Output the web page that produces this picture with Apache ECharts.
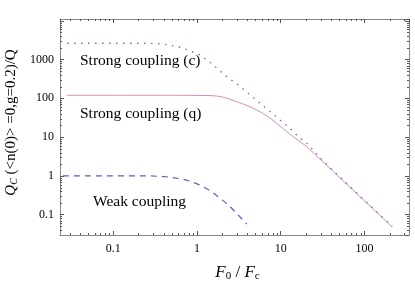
<!DOCTYPE html>
<html><head><meta charset="utf-8">
<script src="https://cdn.jsdelivr.net/npm/echarts@6/dist/echarts.min.js"></script>
<style>html,body{margin:0;padding:0;background:#fff}#c{width:415px;height:284px}</style>
</head><body><div id="c"></div>
<script>
// ---- data ----
const xRange = [0.0231, 341];
const yRange = [0.030, 11100];
const xTickLabels = ['0.1', '1', '10', '100'];
const yTickLabels = ['0.1', '1', '10', '100', '1000'];

const strongClassicalX = [0.028, 0.1, 0.2, 0.333, 0.45, 0.627, 0.8, 1.09, 1.43, 1.64, 2.26, 3.11, 4.10, 5.66, 7.45, 9.81, 12.9, 16.2, 20.5, 30, 50, 100, 215];
const strongClassicalY = [2630, 2630, 2630, 2600, 2400, 2075, 1720, 1314, 851, 656, 363, 221, 135, 74.8, 45.4, 27.8, 16.9, 10.3, 6.96, 2.85, 0.97, 0.235, 0.0495];

const strongQuantumX = [0.028, 0.1, 0.5, 1.0, 1.43, 1.75, 2.06, 2.48, 2.98, 3.6, 4.30, 5.93, 7.80, 9.81, 12.9, 17.0, 20.5, 30, 50, 100, 215];
const strongQuantumY = [120, 120, 120, 119, 118, 114, 107, 95, 82, 71, 61, 42.8, 28.9, 19.4, 11.9, 7.66, 5.69, 2.62, 0.93, 0.229, 0.0485];

const weakX = [0.025, 0.1, 0.274, 0.38, 0.476, 0.656, 0.865, 1.14, 1.50, 1.88, 2.37, 2.98, 3.93];
const weakY = [1, 1, 1.0, 0.97, 0.925, 0.837, 0.713, 0.552, 0.394, 0.266, 0.179, 0.109, 0.0569];

const curveLabels = ['Strong coupling (c)', 'Strong coupling (q)', 'Weak coupling'];

// ---- build ----
const zip = (xs, ys) => xs.map((x, i) => [x, ys[i]]);
function minorValues(lo, hi) {
  const out = [];
  for (let e = -3; e <= 4; e++) {
    for (let k = 2; k <= 9; k++) {
      const v = k * Math.pow(10, e);
      if (v > lo && v < hi) out.push(v);
    }
  }
  return out;
}
const FONT = 'Liberation Serif';
const fmt = (labels) => (v) => {
  const s = String(+Number(v).toPrecision(3));
  return labels.indexOf(s) >= 0 ? s : '';
};
const TICK = '#555';
const AXIS = '#888';

function minorSeries(dim) {
  const vals = dim === 'x' ? minorValues(xRange[0], xRange[1]) : minorValues(yRange[0], yRange[1]);
  return {
    type: 'custom', coordinateSystem: 'cartesian2d', silent: true, clip: false, z: 5,
    data: vals.map(v => dim === 'x' ? [v, yRange[0]] : [xRange[0], v]),
    renderItem: function (params, api) {
      const cs = params.coordSys;
      const p = api.coord([api.value(0), api.value(1)]);
      const st = { stroke: TICK, lineWidth: 1 };
      if (dim === 'x') {
        const x = Math.round(p[0]) + 0.5;
        return { type: 'group', children: [
          { type: 'line', shape: { x1: x, y1: cs.y + cs.height, x2: x, y2: cs.y + cs.height - 2 }, style: st },
          { type: 'line', shape: { x1: x, y1: cs.y, x2: x, y2: cs.y + 2 }, style: st }
        ]};
      } else {
        const y = Math.round(p[1]) + 0.5;
        return { type: 'group', children: [
          { type: 'line', shape: { x1: cs.x, y1: y, x2: cs.x + 2, y2: y }, style: st },
          { type: 'line', shape: { x1: cs.x + cs.width, y1: y, x2: cs.x + cs.width - 2, y2: y }, style: st }
        ]};
      }
    }
  };
}

const baseAxis = {
  type: 'log', logBase: 10,
  axisLine: { show: true, onZero: false, lineStyle: { color: AXIS, width: 1 } },
  axisTick: { show: true, inside: true, length: 4, lineStyle: { color: TICK } },
  splitLine: { show: false },
  minorTick: { show: false }
};

const chart = echarts.init(document.getElementById('c'), null, { renderer: 'canvas' });
chart.setOption({
  animation: false,
  backgroundColor: '#fff',
  grid: { left: 60, right: 6, top: 19, bottom: 49, containLabel: false, outerBoundsMode: 'none' },
  xAxis: [
    Object.assign({}, baseAxis, {
      position: 'bottom', min: xRange[0], max: xRange[1],
      axisLabel: { show: true, color: '#000', fontFamily: FONT, fontSize: 12, margin: 8,
        showMinLabel: false, showMaxLabel: false, formatter: fmt(xTickLabels) },
      name: '{i|F}{s|0}{n| / }{i|F}{s|c}', nameLocation: 'middle', nameGap: 22,
      nameTextStyle: { fontFamily: FONT, padding: [0, 0, 0, 6], rich: {
        i: { fontFamily: FONT, fontStyle: 'italic', fontSize: 17, color: '#000', lineHeight: 18 },
        s: { fontFamily: FONT, fontSize: 11, color: '#000', verticalAlign: 'bottom', lineHeight: 11, padding: [11, 0, 0, 0] },
        n: { fontFamily: FONT, fontSize: 17, color: '#000', lineHeight: 18 }
      } }
    }),
    Object.assign({}, baseAxis, {
      position: 'top', min: xRange[0], max: xRange[1],
      axisLabel: { show: false }
    })
  ],
  yAxis: [
    Object.assign({}, baseAxis, {
      position: 'left', min: yRange[0], max: yRange[1],
      axisLabel: { show: true, color: '#000', fontFamily: FONT, fontSize: 12, margin: 6,
        showMinLabel: false, showMaxLabel: false, formatter: fmt(yTickLabels) },
      name: '{i|Q}{s|C}{n| (<n(0)> =0,g=0.2)/Q}', nameLocation: 'middle', nameGap: 38, nameRotate: 90,
      nameTextStyle: { fontFamily: FONT, padding: [0, 0, 0, 9], rich: {
        i: { fontFamily: FONT, fontStyle: 'italic', fontSize: 15, color: '#000', lineHeight: 16 },
        s: { fontFamily: FONT, fontStyle: 'italic', fontSize: 10, color: '#000', verticalAlign: 'bottom', lineHeight: 10, padding: [10, 0, 0, 0] },
        n: { fontFamily: FONT, fontSize: 15, color: '#000', lineHeight: 16 }
      } }
    }),
    Object.assign({}, baseAxis, {
      position: 'right', min: yRange[0], max: yRange[1],
      axisLabel: { show: false }
    })
  ],
  series: [
    {
      name: curveLabels[0], type: 'line', data: zip(strongClassicalX, strongClassicalY),
      showSymbol: false, smooth: false, z: 3,
      lineStyle: { color: '#7474d4', width: 1.4, type: [1.6, 5.4], cap: 'butt' }
    },
    {
      name: curveLabels[1], type: 'line', data: zip(strongQuantumX, strongQuantumY),
      showSymbol: false, smooth: false, z: 2,
      lineStyle: { color: '#d890b4', width: 1 }
    },
    {
      name: curveLabels[2], type: 'line', data: zip(weakX, weakY),
      showSymbol: false, smooth: false, z: 2,
      lineStyle: { color: '#5c5cbc', width: 1.2, type: [6, 5] }
    },
    minorSeries('x'),
    minorSeries('y')
  ],
  graphic: [
    { type: 'text', left: 80, top: 53, style: { text: curveLabels[0], font: '15.5px "Liberation Serif"', fill: '#000' } },
    { type: 'text', left: 80, top: 106, style: { text: curveLabels[1], font: '15.5px "Liberation Serif"', fill: '#000' } },
    { type: 'text', left: 93, top: 194, style: { text: curveLabels[2], font: '15.5px "Liberation Serif"', fill: '#000' } }
  ]
});
</script>
</body></html>
